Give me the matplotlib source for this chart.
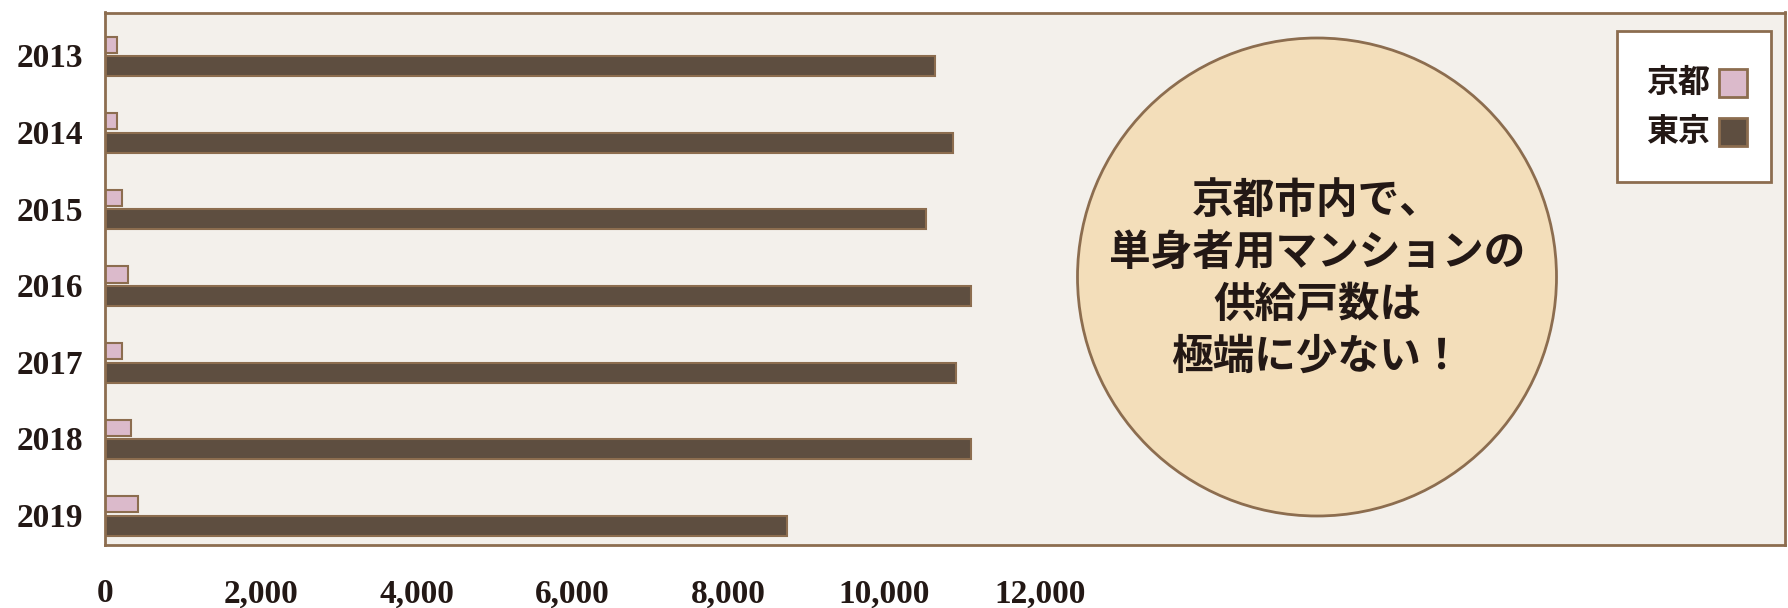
import matplotlib

matplotlib.use("Agg")

import matplotlib.pyplot as plt
from matplotlib.patches import Ellipse, Rectangle
from matplotlib.ticker import FuncFormatter

plt.rcParams["font.family"] = ["Noto Sans CJK JP", "DejaVu Sans"]

years = ["2013", "2014", "2015", "2016", "2017", "2018", "2019"]
kyoto = [160, 160, 220, 290, 220, 330, 430]
tokyo = [10660, 10880, 10540, 11120, 10920, 11120, 8750]
xticks = [0, 2000, 4000, 6000, 8000, 10000, 12000]
series_names = ["京都", "東京"]
callout = "京都市内で、\n単身者用マンションの\n供給戸数は\n極端に少ない！"

BROWN = "#8c6d4f"
PINK = "#dbbacb"
DARK = "#5e4e40"
PANEL = "#f3f0eb"
CIRCLE = "#f3deba"
INK = "#231815"

W, H = 1788, 608
fig = plt.figure(figsize=(W / 100, H / 100), dpi=100)
ax = fig.add_axes([105 / W, 1 - 545 / H, 1680 / W, 532.5 / H])
ax.set_facecolor(PANEL)


def px(x, y):
    """Figure fraction from pixel coords measured from the top-left."""
    return x / W, 1 - y / H


pos = list(range(len(years)))
off, hk, ht = 0.14, 0.21, 0.26
b1 = ax.barh([p - off for p in pos], kyoto, height=hk, color=PINK,
             edgecolor=BROWN, linewidth=1.5, label=series_names[0])
b2 = ax.barh([p + off for p in pos], tokyo, height=ht, color=DARK,
             edgecolor=BROWN, linewidth=1.5, label=series_names[1])

ax.set_xlim(0, 21566)
ax.set_ylim(6.39, -0.56)
ax.set_yticks(pos)
ax.set_yticklabels(years)
ax.set_xticks(xticks)
ax.xaxis.set_major_formatter(FuncFormatter(lambda v, _: f"{int(v):,}"))
for lab in ax.get_xticklabels() + ax.get_yticklabels():
    lab.set_fontfamily("Liberation Serif")
    lab.set_fontweight("bold")
    lab.set_fontsize(24)
    lab.set_color(INK)
ax.tick_params(axis="x", length=0, pad=24)
ax.tick_params(axis="y", length=0, pad=16)
for s in ax.spines.values():
    s.set_color(BROWN)
    s.set_linewidth(2)

# callout circle
fig.patches.append(Ellipse(px(1317, 277), 479 / W, 478 / H,
                           transform=fig.transFigure, facecolor=CIRCLE,
                           edgecolor=BROWN, linewidth=2, zorder=3))
fig.text(*px(1317, 279), callout, ha="center", va="center",
         fontsize=30, fontweight="bold", color=INK, linespacing=1.3, zorder=4)

# legend box, drawn by hand: label first, swatch on the right
x0, y0 = px(1617, 182)
fig.patches.append(Rectangle((x0, y0), 154 / W, 151 / H, transform=fig.transFigure,
                             facecolor="white", edgecolor=BROWN, linewidth=2, zorder=3))
for bars, name, yc in [(b1, series_names[0], 83), (b2, series_names[1], 132)]:
    fig.text(*px(1710, yc), name, ha="right", va="center", fontsize=23,
             fontweight="bold", color=INK, zorder=4)
    sx, sy = px(1719, yc + 14)
    fig.patches.append(Rectangle((sx, sy), 28 / W, 28 / H, transform=fig.transFigure,
                                 facecolor=bars.patches[0].get_facecolor(),
                                 edgecolor=BROWN, linewidth=2, zorder=4))

fig.savefig("out.png", dpi=100, facecolor="white")
